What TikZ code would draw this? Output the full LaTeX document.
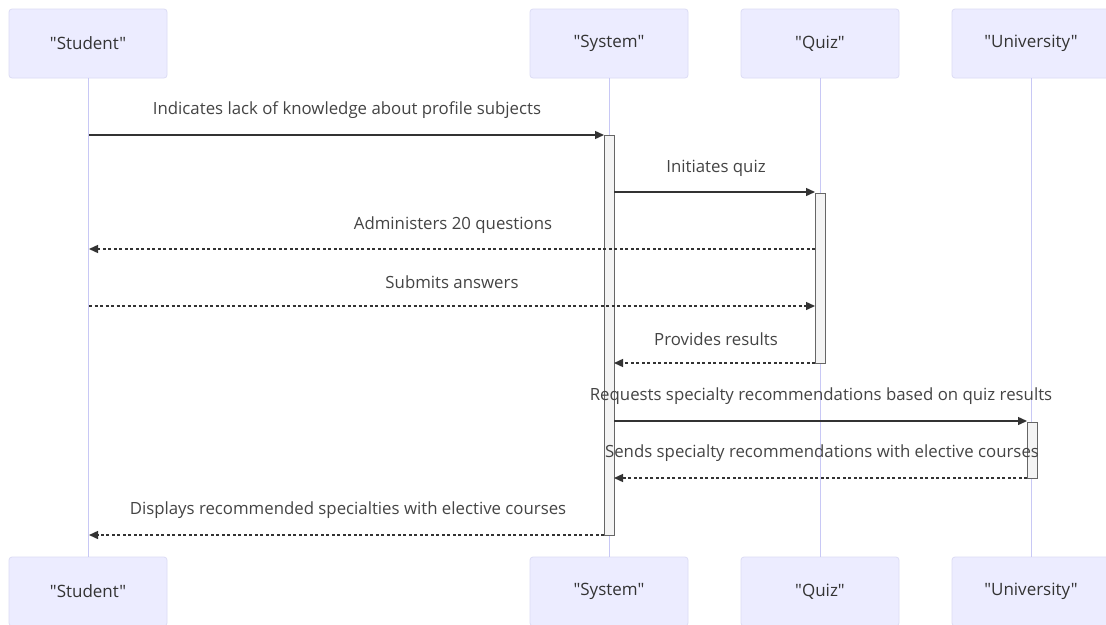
\documentclass[tikz,border=0pt]{standalone}
\usepackage{fontspec}
\setmainfont{Open Sans}
\newfontfamily\actfont{Open Sans}
\usetikzlibrary{arrows.meta}
\definecolor{actfill}{HTML}{ECECFF}
\definecolor{actline}{HTML}{DCDCF5}
\definecolor{lifec}{HTML}{C8C8F5}
\definecolor{txt}{HTML}{333333}
\definecolor{lbltxt}{HTML}{444444}
\definecolor{barfill}{HTML}{F4F4F4}
\definecolor{barline}{HTML}{666666}
\tikzset{
  actor/.style={draw=actline, fill=actfill, rounded corners=3pt, minimum width=158pt, minimum height=69pt, inner sep=0pt, text=txt, font=\actfont\fontsize{17}{18}\selectfont, line width=0.8pt},
  life/.style={draw=lifec, line width=1pt},
  bar/.style={draw=barline, fill=barfill, line width=0.9pt, minimum width=10pt, inner sep=0pt},
  msg/.style={draw=txt, line width=1.4pt, -{Triangle[length=9pt,width=8pt]}},
  reply/.style={msg, dash pattern=on 3pt off 2.5pt},
  lbl/.style={text=lbltxt, font=\fontsize{16.8}{18}\selectfont, inner sep=0pt}
}
\begin{document}
\begin{tikzpicture}[x=1pt,y=-1pt]
\useasboundingbox (0,0) rectangle (1106,624);
\fill[white] (0,0) rectangle (1106,624);
% actors
\node[actor] (st) at (88,43.5) {"Student"};
\node[actor] (sy) at (609,43.5) {"System"};
\node[actor] (qz) at (820,43.5) {"Quiz"};
\node[actor] (un) at (1031,43.5) {"University"};
\node[actor] (stb) at (88,591.5) {"Student"};
\node[actor] (syb) at (609,591.5) {"System"};
\node[actor] (qzb) at (820,591.5) {"Quiz"};
\node[actor] (unb) at (1031,591.5) {"University"};
% lifelines
\draw[life] (st) -- (stb);
\draw[life] (sy) -- (syb);
\draw[life] (qz) -- (qzb);
\draw[life] (un) -- (unb);
% activations
\node[bar, minimum height=400pt] (asy) at (609,335) {};
\node[bar, minimum height=170pt] (aqz) at (820,278) {};
\node[bar, minimum height=56pt] (aun) at (1032,450) {};
% message endpoints
\coordinate (p1) at (89,135);
\coordinate (q1) at (604,135);
\coordinate (p2) at (614,192);
\coordinate (q2) at (815,192);
\coordinate (p3) at (815,249);
\coordinate (q3) at (89,249);
\coordinate (p4) at (89,306);
\coordinate (q4) at (815,306);
\coordinate (p5) at (815,363);
\coordinate (q5) at (614,363);
\coordinate (p6) at (614,421);
\coordinate (q6) at (1027,421);
\coordinate (p7) at (1027,478);
\coordinate (q7) at (614,478);
\coordinate (p8) at (604,535);
\coordinate (q8) at (89,535);
% messages
\draw[msg] (p1) -- (q1);
\draw[msg] (p2) -- (q2);
\draw[reply] (p3) -- (q3);
\draw[reply] (p4) -- (q4);
\draw[reply] (p5) -- (q5);
\draw[msg] (p6) -- (q6);
\draw[reply] (p7) -- (q7);
\draw[reply] (p8) -- (q8);
% labels
\node[lbl] (l1) at (347,110) {Indicates lack of knowledge about profile subjects};
\node[lbl] (l2) at (716,168) {Initiates quiz};
\node[lbl] (l3) at (453,225) {Administers 20 questions};
\node[lbl] (l4) at (452,282) {Submits answers};
\node[lbl] (l5) at (716,339) {Provides results};
\node[lbl] (l6) at (821,396) {Requests specialty recommendations based on quiz results};
\node[lbl] (l7) at (822,453) {Sends specialty recommendations with elective courses};
\node[lbl] (l8) at (348,510) {Displays recommended specialties with elective courses};
\end{tikzpicture}
\end{document}
